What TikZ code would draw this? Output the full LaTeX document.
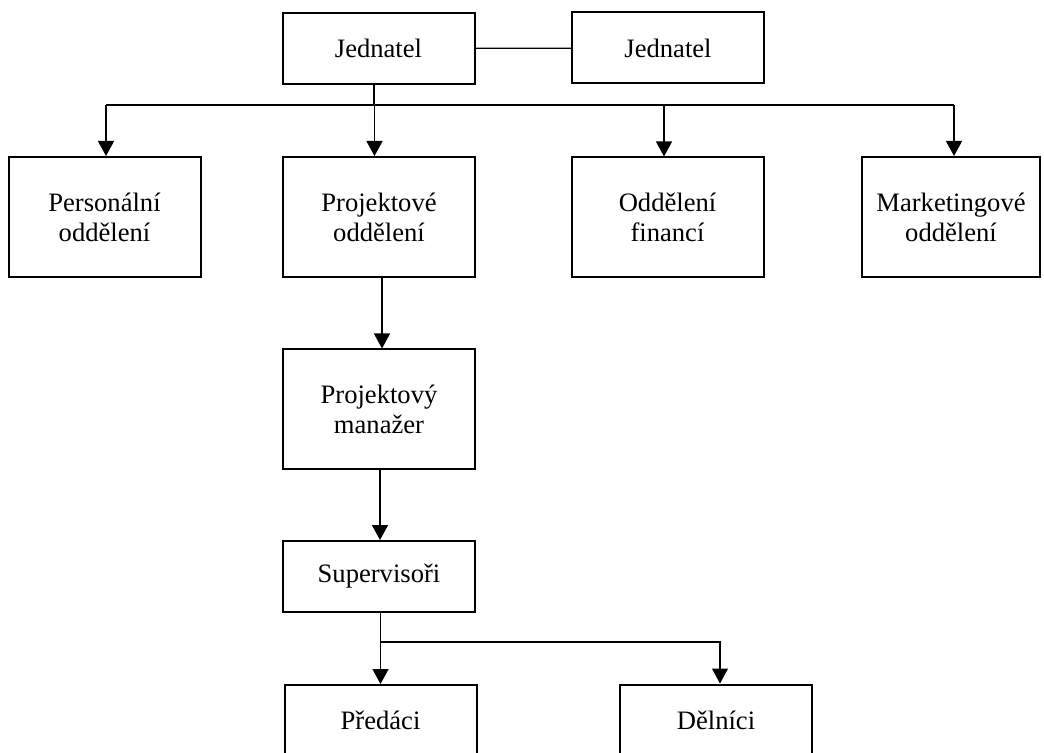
\documentclass[tikz,border=0pt]{standalone}
\usepackage{fontspec}
\setmainfont{Liberation Serif}
\usepackage{tikz}
\usetikzlibrary{arrows.meta,positioning}

\begin{document}
\begin{tikzpicture}[x=.5pt,y=-.5pt,
    every node/.style={font=\fontsize{13.3}{15}\selectfont},
    box/.style={draw,line width=1pt,minimum width=96pt,minimum height=35.5pt,inner sep=0pt,align=center},
    tallbox/.style={box,minimum height=60pt},
    link/.style={line width=.65pt},
    arr/.style={link,-{Triangle[length=7.5pt,width=8pt]}}]
  \useasboundingbox (0,0) rectangle (1044,753);
  % top level
  \node[box] (jed1) at (378.5,48.5) {Jednatel};
  \node[box] (jed2) at (668,48) {Jednatel};
  % departments
  \node[tallbox] (pers) at (104.5,217) {Personální\\oddělení};
  \node[tallbox] (proj) at (379,217) {Projektové\\oddělení};
  \node[tallbox] (fin) at (667.5,217.5) {Oddělení\\financí};
  \node[tallbox,minimum width=89pt] (mkt) at (951,217) {Marketingové\\oddělení};
  % project line
  \node[tallbox] (man) at (379,409.5) {Projektový\\manažer};
  \node[box] (sup) at (379,576.5) {Supervisoři};
  \node[box] (pred) at (380.5,720.5) {Předáci};
  \node[box] (deln) at (716,720) {Dělníci};
  \coordinate (bus) at (374,105);
  \coordinate (split) at (380,642);

  \draw[link] (jed1) -- (jed2);
  \draw[link] (jed1.south -| bus) -- (bus);
  \draw[link] ([xshift=.75pt]bus -| pers.north) -- ([xshift=1.5pt]bus -| mkt.north);
  \foreach \n/\s in {pers/.75,proj/-2.25,fin/-1.75,mkt/1.5}
    \draw[arr] ([xshift=\s pt]bus -| \n.north) -- ([xshift=\s pt]\n.north);
  \draw[arr] ([xshift=1.5pt]proj.south) -- ([xshift=1.5pt]man.north);
  \draw[arr] ([xshift=.5pt]man.south) -- ([xshift=.5pt]sup.north);
  \draw[arr] (sup.south -| pred) -- (pred.north);
  \draw[arr] (split) -| ([xshift=2pt]deln.north);
\end{tikzpicture}
\end{document}
